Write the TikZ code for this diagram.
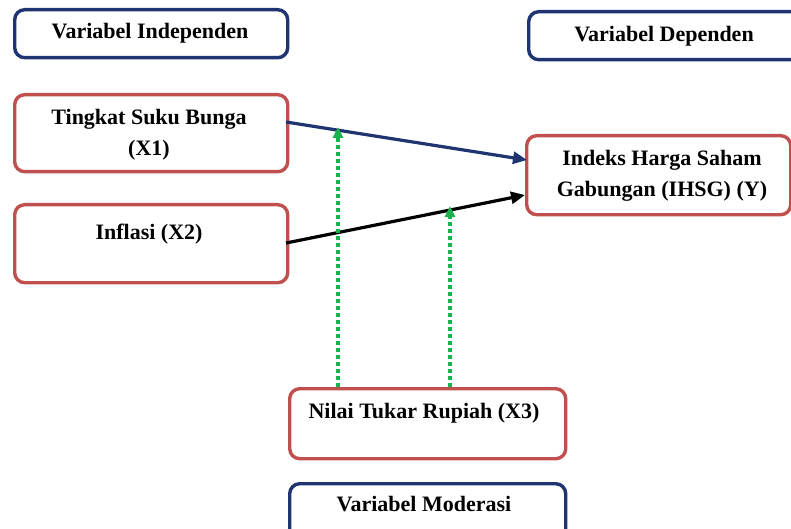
\documentclass[tikz,border=0pt]{standalone}
\usepackage{fontspec}
\setmainfont{Liberation Serif}
\usetikzlibrary{arrows.meta}
\definecolor{navy}{HTML}{1F3470}
\definecolor{redb}{HTML}{C0504D}
\definecolor{grn}{HTML}{1DB04E}
\begin{document}
\begin{tikzpicture}[x=1pt,y=-1pt,
  boxbase/.style={draw, line width=3.4pt, rounded corners=10pt, fill=white, inner sep=0pt, anchor=north west},
  navybox/.style={boxbase, draw=navy},
  redbox/.style={boxbase, draw=redb},
  lbl/.style={font=\fontsize{22}{31}\selectfont\bfseries, align=center, inner sep=0pt},
  arr/.style={line width=3.2pt, -{Triangle[length=14pt,width=12pt]}},
  mod/.style={line width=3.6pt, draw=grn, dash pattern=on 4pt off 3pt, -{Triangle[length=11pt,width=10pt]}}]
\useasboundingbox (0,0) rectangle (791,529);
% boxes
\node[navybox, minimum width=273pt, minimum height=48pt] (bInd) at (13,8) {};
\node[navybox, minimum width=280pt, minimum height=48pt] (bDep) at (527,10) {};
\node[redbox, minimum width=273pt, minimum height=77pt] (bX1) at (13,93) {};
\node[redbox, minimum width=273pt, minimum height=78pt] (bX2) at (13,203) {};
\node[redbox, minimum width=264pt, minimum height=79pt] (bY) at (525,134) {};
\node[redbox, minimum width=276pt, minimum height=70pt] (bX3) at (288,387) {};
\node[navybox, minimum width=276pt, minimum height=60pt] (bMod) at (288,482) {};
% labels
\node[lbl] (tInd) at (150,33) {Variabel Independen};
\node[lbl] (tDep) at (664,36) {Variabel Dependen};
\node[lbl] (tX1) at (149,135) {Tingkat Suku Bunga\\(X1)};
\node[lbl] (tX2) at (149,234) {Inflasi (X2)};
\node[lbl] (tY) at (662,176) {Indeks Harga Saham\\Gabungan (IHSG) (Y)};
\node[lbl] (tX3) at (424,413) {Nilai Tukar Rupiah (X3)};
\node[lbl] (tMod) at (424,504) {Variabel Moderasi};
% connectors
\coordinate (s1) at (286,122);
\coordinate (e1) at (527,160);
\coordinate (s2) at (286,243);
\coordinate (e2) at (525,195);
\draw[arr, navy] (s1) -- (e1);
\draw[arr, black] (s2) -- (e2);
\coordinate (m1s) at (338,387);
\coordinate (m1e) at (338,127);
\coordinate (m2s) at (450,387);
\coordinate (m2e) at (450,206);
\draw[mod] (m1s) -- (m1e);
\draw[mod] (m2s) -- (m2e);
\end{tikzpicture}
\end{document}
